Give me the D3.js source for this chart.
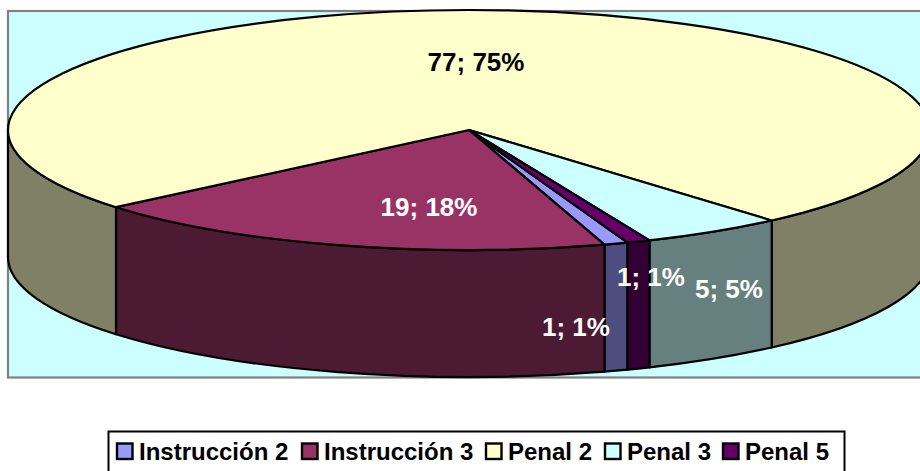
<!DOCTYPE html>
<html><head><meta charset="utf-8">
<style>html,body{margin:0;padding:0;background:#fff;overflow:hidden}svg{display:block}text{font-family:"Liberation Sans",Arial,sans-serif;font-weight:bold}</style>
<script src="https://cdnjs.cloudflare.com/ajax/libs/d3/7.8.5/d3.min.js"></script>
</head><body><svg id="c" width="920" height="471"></svg>
<script>
const categories=["Instrucción 2","Instrucción 3","Penal 2","Penal 3","Penal 5"];
const values=[1,19,77,5,1];
const percents=[1,18,75,5,1];
const topColors=["#9999ff","#993366","#ffffcc","#ccffff","#660066"];
const sideColors=["#4d4d80","#4d1a33","#808066","#668080","#330033"];
const labelColors=["#fff","#fff","#000","#fff","#fff"];
const labelPos=[[576,327],[429,207],[476,62],[729,289],[651,277]];
// 3D tilt foreshortens slice angles slightly: drawn boundary angles, in degrees
const projectedAngles=[159.89,162.91,229.97,498.96,516.95,519.89];
const W=920,H=471;
const cx=469,cy=130,rx=461,ry=120,depth=127;
const svg=d3.select("#c");
svg.append("defs").append("clipPath").attr("id","clip").append("rect").attr("x",0).attr("y",0).attr("width",W).attr("height",H);
svg.append("rect").attr("x",8).attr("y",11).attr("width",W).attr("height",366.5).attr("fill","#ccffff").attr("stroke","#808080").attr("stroke-width",2.2);
const pie=d3.pie().sort(null).startAngle(0).endAngle(2*Math.PI);
const raw=pie(values);
const bounds=[raw[0].startAngle,...raw.map(d=>d.endAngle)];
const project=d3.scaleLinear().domain(bounds).range(projectedAngles.map(d=>d*Math.PI/180));
const arcs=raw.map(d=>({startAngle:project(d.startAngle),endAngle:project(d.endAngle),value:d.value}));
const px=a=>cx+rx*Math.sin(a), py=(a,d=0)=>cy-ry*Math.cos(a)+d;
function arcSeg(a0,a1,d){
  let s="";const n=Math.ceil(Math.abs(a1-a0)/(Math.PI/2));
  for(let i=1;i<=n;i++){const a=a0+(a1-a0)*i/n;
    s+=`A${rx},${ry} 0 0 ${a1>a0?1:0} ${px(a)},${py(a,d)}`;}
  return s;
}
function topPath(a){return `M${cx},${cy}L${px(a.startAngle)},${py(a.startAngle)}`+arcSeg(a.startAngle,a.endAngle,0)+"Z";}
function wallPath(a0,a1){return `M${px(a0)},${py(a0)}`+arcSeg(a0,a1,0)+`L${px(a1)},${py(a1,depth)}`+arcSeg(a1,a0,depth)+"Z";}
const frontS=Math.PI/2,frontE=3*Math.PI/2;
const g=svg.append("g").attr("clip-path","url(#clip)");
const walls=[];
arcs.forEach((a,i)=>{
  for(const k of [0,2*Math.PI]){
    const s=Math.max(a.startAngle,frontS+k),e=Math.min(a.endAngle,frontE+k);
    if(e>s)walls.push({s,e,i});
  }
});
g.selectAll("path.wall").data(walls).join("path").attr("class","wall")
  .attr("d",d=>wallPath(d.s,d.e)).attr("fill",d=>sideColors[d.i]).attr("stroke","#000").attr("stroke-width",2.2).attr("stroke-linejoin","round");
g.selectAll("path.top").data(arcs).join("path").attr("class","top")
  .attr("d",topPath).attr("fill",(d,i)=>topColors[i]).attr("stroke","#000").attr("stroke-width",2.2).attr("stroke-linejoin","round");
svg.selectAll("text.lab").data(arcs).join("text").attr("class","lab")
  .attr("x",(d,i)=>labelPos[i][0]).attr("y",(d,i)=>labelPos[i][1]+9)
  .attr("text-anchor","middle").attr("font-size",26)
  .attr("fill",(d,i)=>labelColors[i])
  .text((d,i)=>`${values[i]}; ${percents[i]}%`);
svg.append("rect").attr("x",108.5).attr("y",431.5).attr("width",736).attr("height",60).attr("fill","#fff").attr("stroke","#000").attr("stroke-width",2);
const legX=[117,302,486,605,723];
const leg=svg.selectAll("g.leg").data(categories).join("g").attr("class","leg").attr("transform",(d,i)=>`translate(${legX[i]},443.5)`);
leg.append("rect").attr("width",15.5).attr("height",15.5).attr("fill",(d,i)=>topColors[i]).attr("stroke","#000").attr("stroke-width",2.4);
leg.append("text").attr("x",22).attr("y",16.5).attr("font-size",24).attr("fill","#000").text(d=>d);
</script></body></html>
